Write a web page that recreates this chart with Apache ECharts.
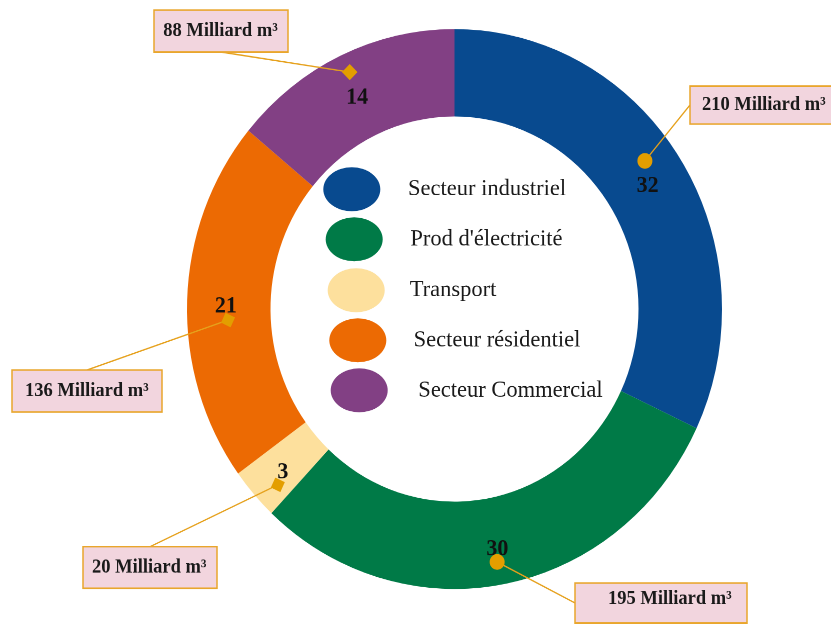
<!DOCTYPE html>
<html><head><meta charset="utf-8">
<script src="https://cdn.jsdelivr.net/npm/echarts@6/dist/echarts.min.js"></script>
<style>
html,body{margin:0;padding:0;background:#fff;overflow:hidden;width:831px;height:624px;}
#chart{width:831px;height:596.2px;transform:scaleY(1.0467);transform-origin:0 0;}
</style></head><body><div id="chart"></div>
<script>
// ---- data ----
const categories = ['Secteur industriel', "Prod d'électricité", 'Transport', 'Secteur résidentiel', 'Secteur Commercial'];
const shares = [32, 30, 3, 21, 14];
const volumes = [210, 195, 20, 136, 88];
const unitLabel = 'Milliard m³';

// ---- styles / layout ----
const colors = ['#084A8F', '#007A47', '#FDE09D', '#EC6A03', '#824084'];
const markerColor = '#E39E00';
const leaderColor = '#E6A11C';
const boxFill = '#F2D5DE';
const boxBorder = '#E9A62C';
const serif = '"Liberation Serif", "Times New Roman", serif';
const CENTER = [454.5, 295.2];
const R_OUT = 267.5, R_IN = 184;
const ellipsePath = 'path://M0,50A50,50 0 1,1 100,50A50,50 0 1,1 0,50Z';

const legendLayout = [
  {left: 323.3, top: 159.8, gap: 22.7},
  {left: 325.7, top: 207.6, gap: 22.7},
  {left: 327.7, top: 256.3, gap: 20},
  {left: 329.3, top: 304.1, gap: 22.3},
  {left: 330.7, top: 351.9, gap: 25.6}
];
const callouts = [
  {r: 237.2, dAng: -1.17, mark: 'circle', box: [690, 82.2, 150, 36.3], tx: 12, ty: 18.15, attach: 'left'},
  {r: 245.4, dAng: 0.22, mark: 'circle', box: [575, 557, 172, 38.2], tx: 33, ty: 15.3, attach: 'left'},
  {r: 243.8, dAng: -0.6, mark: 'square', rot: 25, box: [83, 522.3, 134, 39.7], tx: 9, ty: 19.85, attach: 'top'},
  {r: 226.7, dAng: -1.24, mark: 'square', rot: 25, box: [12, 353.5, 150, 40.1], tx: 13, ty: 20.05, attach: 'top'},
  {r: 249.4, dAng: 0.1, mark: 'square', rot: 45, box: [154, 9.6, 134, 40.1], tx: 9.3, ty: 20.05, attach: 'bottom'}
];

const total = shares.reduce((a, b) => a + b, 0);
let cum = 0;
const midPct = shares.map(v => { const m = (cum + v / 2) / total * 100; cum += v; return m; });
const markerData = shares.map((v, i) => [callouts[i].r, midPct[i] + callouts[i].dAng, i]);

const chart = echarts.init(document.getElementById('chart'), null, {devicePixelRatio: 2});
chart.setOption({
  backgroundColor: '#ffffff',
  animation: false,
  polar: {center: CENTER, radius: R_OUT},
  angleAxis: {type: 'value', min: 0, max: 100, startAngle: 90, clockwise: true, show: false,
    axisLine: {show: false}, axisTick: {show: false}, axisLabel: {show: false}, splitLine: {show: false}},
  radiusAxis: {type: 'value', min: 0, max: R_OUT, show: false,
    axisLine: {show: false}, axisTick: {show: false}, axisLabel: {show: false}, splitLine: {show: false}},
  legend: categories.map((n, i) => ({
    data: [n], left: legendLayout[i].left, top: legendLayout[i].top, orient: 'vertical', padding: 0,
    itemWidth: 57, itemHeight: 42, icon: ellipsePath, symbolKeepAspect: false, selectedMode: false,
    textStyle: {fontFamily: serif, fontSize: 22.5, color: '#1a1a1a', padding: [0, 0, 0, legendLayout[i].gap]}
  })),
  series: [
    {
      type: 'pie', center: CENTER, radius: [R_IN, R_OUT], startAngle: 90, clockwise: true,
      avoidLabelOverlap: false, silent: true,
      label: {show: true, position: 'inside', formatter: '{c}', fontFamily: serif, fontSize: 22,
        fontWeight: 'bold', color: '#111'},
      labelLayout: {dy: 5},
      labelLine: {show: false},
      data: categories.map((n, i) => ({name: n, value: shares[i], itemStyle: {color: colors[i]}}))
    },
    {
      type: 'custom', coordinateSystem: 'polar', silent: true, z: 5,
      data: markerData,
      renderItem: function (params, api) {
        const i = params.dataIndex;
        const c = callouts[i];
        const p = api.coord([api.value(0), api.value(1)]);
        const bx = c.box[0], by = c.box[1], bw = c.box[2], bh = c.box[3];
        let ax, ay;
        if (c.attach === 'left') { ax = bx; ay = by + bh / 2; }
        else if (c.attach === 'top') { ax = bx + bw / 2; ay = by; }
        else { ax = bx + bw / 2; ay = by + bh; }
        const children = [
          {type: 'line', shape: {x1: p[0], y1: p[1], x2: ax, y2: ay}, style: {stroke: leaderColor, lineWidth: 1.3}},
          {type: 'rect', shape: {x: bx, y: by, width: bw, height: bh}, style: {fill: boxFill, stroke: boxBorder, lineWidth: 1.5}},
          {type: 'text', x: bx + c.tx, y: by + c.ty, style: {text: volumes[i] + ' ' + unitLabel, fill: '#1a1a1a',
            fontFamily: serif, fontSize: 18.5, fontWeight: 'bold', align: 'left', verticalAlign: 'middle'}}
        ];
        if (c.mark === 'circle') {
          children.push({type: 'circle', shape: {cx: p[0], cy: p[1], r: 7.5}, style: {fill: markerColor}});
        } else {
          const s = c.rot === 45 ? 11 : 10.5;
          children.push({type: 'rect', x: p[0], y: p[1], rotation: -c.rot * Math.PI / 180,
            shape: {x: -s / 2, y: -s / 2, width: s, height: s}, style: {fill: markerColor}});
        }
        return {type: 'group', children: children};
      }
    }
  ]
});
</script></body></html>
